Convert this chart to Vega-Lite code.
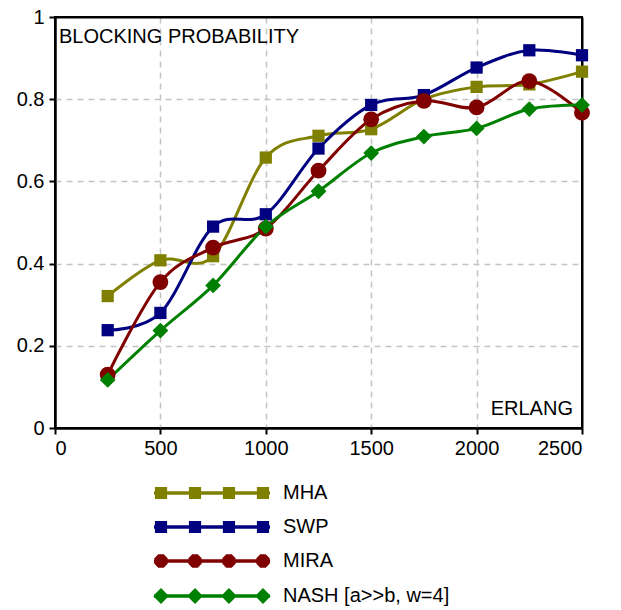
{
  "$schema": "https://vega.github.io/schema/vega-lite/v6.json",
  "autosize": "none",
  "padding": {"left": 55, "top": 17, "right": 39, "bottom": 182},
  "width": 527,
  "height": 411,
  "background": "white",
  "config": {
    "font": "Liberation Sans",
    "view": {"stroke": "black", "strokeWidth": 2},
    "axis": {
      "labelFont": "Liberation Sans",
      "labelFontSize": 20,
      "labelColor": "black",
      "domainColor": "black",
      "domainWidth": 2,
      "tickColor": "black",
      "tickWidth": 2,
      "tickSize": 6,
      "gridWidth": 1.5,
      "title": null
    }
  },
  "datasets": {
    "series": [
      {"erlang": 250, "p": 0.321, "s": "MHA"},
      {"erlang": 500, "p": 0.408, "s": "MHA"},
      {"erlang": 750, "p": 0.418, "s": "MHA"},
      {"erlang": 1000, "p": 0.658, "s": "MHA"},
      {"erlang": 1250, "p": 0.711, "s": "MHA"},
      {"erlang": 1500, "p": 0.727, "s": "MHA"},
      {"erlang": 1750, "p": 0.8, "s": "MHA"},
      {"erlang": 2000, "p": 0.83, "s": "MHA"},
      {"erlang": 2250, "p": 0.836, "s": "MHA"},
      {"erlang": 2500, "p": 0.867, "s": "MHA"},
      {"erlang": 250, "p": 0.238, "s": "SWP"},
      {"erlang": 500, "p": 0.28, "s": "SWP"},
      {"erlang": 750, "p": 0.49, "s": "SWP"},
      {"erlang": 1000, "p": 0.52, "s": "SWP"},
      {"erlang": 1250, "p": 0.68, "s": "SWP"},
      {"erlang": 1500, "p": 0.786, "s": "SWP"},
      {"erlang": 1750, "p": 0.81, "s": "SWP"},
      {"erlang": 2000, "p": 0.877, "s": "SWP"},
      {"erlang": 2250, "p": 0.919, "s": "SWP"},
      {"erlang": 2500, "p": 0.907, "s": "SWP"},
      {"erlang": 250, "p": 0.13, "s": "MIRA"},
      {"erlang": 500, "p": 0.355, "s": "MIRA"},
      {"erlang": 750, "p": 0.439, "s": "MIRA"},
      {"erlang": 1000, "p": 0.485, "s": "MIRA"},
      {"erlang": 1250, "p": 0.626, "s": "MIRA"},
      {"erlang": 1500, "p": 0.751, "s": "MIRA"},
      {"erlang": 1750, "p": 0.796, "s": "MIRA"},
      {"erlang": 2000, "p": 0.78, "s": "MIRA"},
      {"erlang": 2250, "p": 0.844, "s": "MIRA"},
      {"erlang": 2500, "p": 0.767, "s": "MIRA"},
      {"erlang": 250, "p": 0.117, "s": "NASH [a>>b, w=4]"},
      {"erlang": 500, "p": 0.237, "s": "NASH [a>>b, w=4]"},
      {"erlang": 750, "p": 0.347, "s": "NASH [a>>b, w=4]"},
      {"erlang": 1000, "p": 0.49, "s": "NASH [a>>b, w=4]"},
      {"erlang": 1250, "p": 0.576, "s": "NASH [a>>b, w=4]"},
      {"erlang": 1500, "p": 0.669, "s": "NASH [a>>b, w=4]"},
      {"erlang": 1750, "p": 0.709, "s": "NASH [a>>b, w=4]"},
      {"erlang": 2000, "p": 0.729, "s": "NASH [a>>b, w=4]"},
      {"erlang": 2250, "p": 0.776, "s": "NASH [a>>b, w=4]"},
      {"erlang": 2500, "p": 0.786, "s": "NASH [a>>b, w=4]"}
    ]
  },
  "layer": [
    {
      "data": {"name": "series"},
      "mark": {"type": "line", "interpolate": "cardinal", "strokeWidth": 3},
      "encoding": {
        "x": {
          "field": "erlang", "type": "quantitative",
          "scale": {"domain": [0, 2500], "nice": false},
          "axis": {
            "values": [0, 500, 1000, 1500, 2000, 2500], "format": "d", "labelPadding": 4,
            "gridColor": {"condition": {"test": "datum.value === 2500 || datum.value === 0", "value": "black"}, "value": "#c4c4c4"},
            "gridDash": {"condition": {"test": "datum.value === 2500 || datum.value === 0", "value": []}, "value": [6, 5]},
            "gridWidth": {"condition": {"test": "datum.value === 2500 || datum.value === 0", "value": 2}, "value": 1.5}
          }
        },
        "y": {
          "field": "p", "type": "quantitative",
          "scale": {"domain": [0, 1], "nice": false},
          "axis": {
            "values": [0, 0.2, 0.4, 0.6, 0.8, 1], "format": "~g", "labelPadding": 5,
            "gridColor": {"condition": {"test": "datum.value === 1 || datum.value === 0", "value": "black"}, "value": "#c4c4c4"},
            "gridDash": {"condition": {"test": "datum.value === 1 || datum.value === 0", "value": []}, "value": [6, 5]},
            "gridWidth": {"condition": {"test": "datum.value === 1 || datum.value === 0", "value": 2}, "value": 1.5}
          }
        },
        "color": {
          "field": "s", "type": "nominal",
          "scale": {"domain": ["MHA", "SWP", "MIRA", "NASH [a>>b, w=4]"], "range": ["#808000", "#000080", "#800000", "#008000"]},
          "legend": {
            "orient": "none",
            "legendX": 96,
            "legendY": 466,
            "direction": "vertical",
            "title": null,
            "padding": 0,
            "labelFont": "Liberation Sans",
            "labelFontSize": 20,
            "labelColor": "black",
            "labelLimit": 400,
            "labelOffset": 112,
            "rowPadding": 10,
            "symbolSize": 196,
            "symbolStrokeWidth": 3.5,
            "encode": {
              "symbols": {
                "update": {
                  "shape": {"signal": "datum.value === 'MIRA' ? 'M-1,0L15.57,0M0.7,0.29L0.29,0.7L-0.29,0.7L-0.7,0.29L-0.7,-0.29L-0.29,-0.7L0.29,-0.7L0.7,-0.29ZM5.56,0.29L5.15,0.7L4.57,0.7L4.16,0.29L4.16,-0.29L4.57,-0.7L5.15,-0.7L5.56,-0.29ZM10.41,0.29L10,0.7L9.42,0.7L9.01,0.29L9.01,-0.29L9.42,-0.7L10,-0.7L10.41,-0.29ZM15.27,0.29L14.86,0.7L14.28,0.7L13.87,0.29L13.87,-0.29L14.28,-0.7L14.86,-0.7L15.27,-0.29Z' : datum.value === 'NASH [a>>b, w=4]' ? 'M-1,0L15.57,0M-0.78,0L0,-0.78L0.78,0L0,0.78ZM4.08,0L4.86,-0.78L5.64,0L4.86,0.78ZM8.93,0L9.71,-0.78L10.49,0L9.71,0.78ZM13.79,0L14.57,-0.78L15.35,0L14.57,0.78Z' : 'M-1,0L15.57,0M-0.62,-0.62L0.62,-0.62L0.62,0.62L-0.62,0.62ZM4.24,-0.62L5.48,-0.62L5.48,0.62L4.24,0.62ZM9.09,-0.62L10.33,-0.62L10.33,0.62L9.09,0.62ZM13.95,-0.62L15.19,-0.62L15.19,0.62L13.95,0.62Z'"},
                  "size": {"value": 196},
                  "fill": {"scale": "color", "field": "value"},
                  "stroke": {"scale": "color", "field": "value"},
                  "strokeWidth": {"value": 3.5},
                  "opacity": {"value": 1},
                  "fillOpacity": {"value": 1},
                  "strokeOpacity": {"value": 1}
                }
              }
            }
          }
        },
        "detail": {"field": "s"}
      }
    },
    {
      "data": {"name": "series"},
      "transform": [{"filter": "datum.s === 'MHA' || datum.s === 'SWP'"}],
      "mark": {"type": "point", "shape": "square", "size": 150, "filled": true, "opacity": 1, "strokeWidth": 0},
      "encoding": {
        "x": {"field": "erlang", "type": "quantitative"},
        "y": {"field": "p", "type": "quantitative"},
        "color": {"field": "s", "type": "nominal"}
      }
    },
    {
      "data": {"name": "series"},
      "transform": [{"filter": "datum.s === 'MIRA'"}],
      "mark": {"type": "point", "shape": "circle", "size": 250, "filled": true, "opacity": 1, "strokeWidth": 0},
      "encoding": {
        "x": {"field": "erlang", "type": "quantitative"},
        "y": {"field": "p", "type": "quantitative"},
        "color": {"field": "s", "type": "nominal"}
      }
    },
    {
      "data": {"name": "series"},
      "transform": [{"filter": "datum.s === 'NASH [a>>b, w=4]'"}],
      "mark": {"type": "point", "shape": "diamond", "size": 250, "filled": true, "opacity": 1, "strokeWidth": 0},
      "encoding": {
        "x": {"field": "erlang", "type": "quantitative"},
        "y": {"field": "p", "type": "quantitative"},
        "color": {"field": "s", "type": "nominal"}
      }
    },
    {
      "data": {"values": [{"label": "BLOCKING PROBABILITY"}]},
      "mark": {"type": "text", "align": "left", "baseline": "middle", "fontSize": 20, "font": "Liberation Sans", "color": "black"},
      "encoding": {
        "x": {"datum": 19, "type": "quantitative"},
        "y": {"datum": 0.951, "type": "quantitative"},
        "text": {"field": "label"}
      }
    },
    {
      "data": {"values": [{"label": "ERLANG"}]},
      "mark": {"type": "text", "align": "right", "baseline": "middle", "fontSize": 20, "font": "Liberation Sans", "color": "black"},
      "encoding": {
        "x": {"datum": 2457, "type": "quantitative"},
        "y": {"datum": 0.047, "type": "quantitative"},
        "text": {"field": "label"}
      }
    }
  ]
}
